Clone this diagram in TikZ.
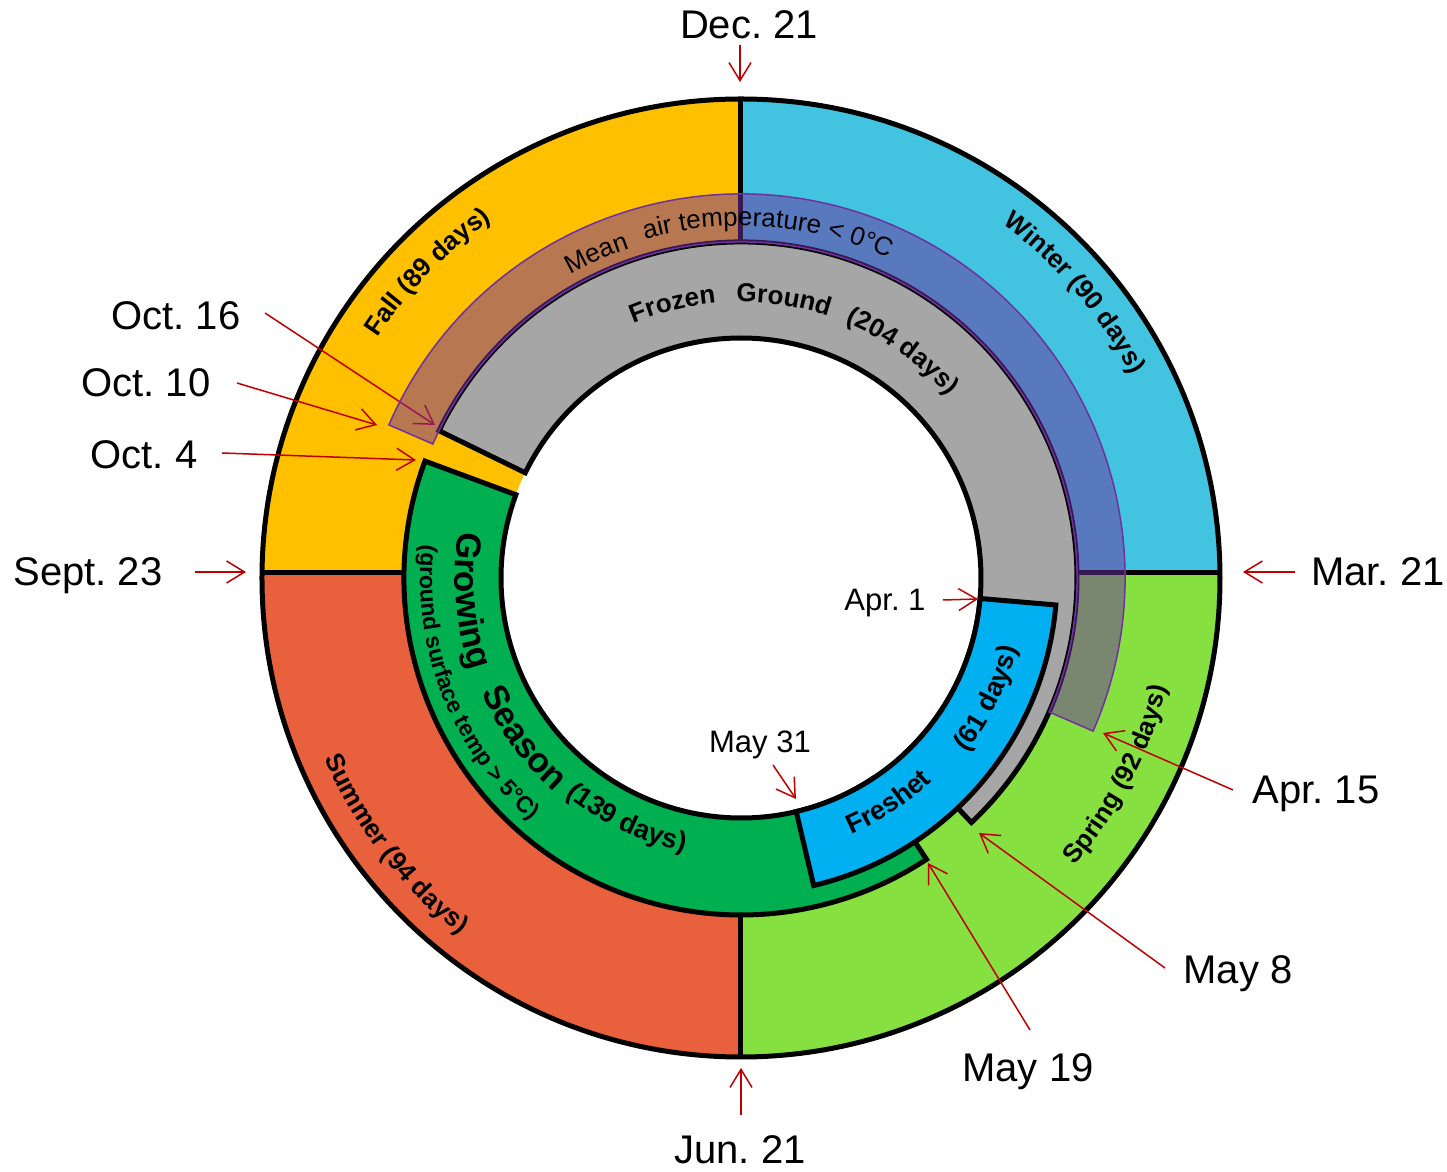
\documentclass[tikz,border=0pt]{standalone}
\usepackage{fontspec}
\setmainfont{Liberation Sans}
\usetikzlibrary{arrows.meta,decorations.text}
\frenchspacing
\definecolor{winterc}{HTML}{42C3DF}
\definecolor{fallc}{HTML}{FFC000}
\definecolor{springc}{HTML}{86E040}
\definecolor{summerc}{HTML}{E8603C}
\definecolor{growc}{HTML}{00B050}
\definecolor{freshc}{HTML}{00B0F0}
\definecolor{frozc}{HTML}{A6A6A6}
\definecolor{bandc}{HTML}{7030A0}
\definecolor{arrowred}{HTML}{C00000}
\newcommand{\ringpath}[4]{({#1}:#4) arc[start angle={#1},end angle={#2},radius=#4] -- ({#2}:#3) arc[start angle={#2},end angle={#1},radius=#3] -- cycle}
\newcommand{\cwtext}[4]{\path[decorate,decoration={text along path,text align=center,text={|#3|#4}}] ({#1+45}:#2) arc[start angle={#1+45},end angle={#1-45},radius=#2];}
\newcommand{\ccwtext}[4]{\path[decorate,decoration={text along path,text align=center,text={|#3|#4}}] ({#1-45}:#2) arc[start angle={#1-45},end angle={#1+45},radius=#2];}
\newcommand{\seasonfont}{\bfseries\fontsize{13}{15}\selectfont}
\newcommand{\ringfont}{\bfseries\fontsize{13}{15}\selectfont}
\newcommand{\ringfontB}{\bfseries\fontsize{13.5}{16}\selectfont}
\newcommand{\growfont}{\bfseries\fontsize{17.5}{20}\selectfont}
\newcommand{\notefont}{\bfseries\fontsize{11.5}{13}\selectfont}
\newcommand{\bandfont}{\fontsize{13}{15}\selectfont}
\tikzset{
  datelbl/.style={font=\fontsize{20}{24}\selectfont, anchor=base, inner sep=0pt},
  smalldate/.style={font=\fontsize{15.5}{18}\selectfont, anchor=base, inner sep=0pt},
  redarrow/.style={draw=arrowred, line width=0.75pt, -{Straight Barb[length=9pt,width=11pt]}},
  ring/.style={draw=black, line width=2.5pt},
  divider/.style={draw=black, line width=2.5pt},
}
\begin{document}
\begin{tikzpicture}[x=0.5pt,y=0.5pt]
\useasboundingbox (-741,-594) rectangle (706,578);
\fill[white] (-741,-594) rectangle (706,578);
% seasons
\begin{scope}
  \clip (0,0) circle[radius=479];
  \fill[fallc] (-500,5) rectangle (0,500);
  \fill[winterc] (0,5) rectangle (500,500);
  \fill[summerc] (-500,-500) rectangle (0,5);
  \fill[springc] (0,-500) rectangle (500,5);
\end{scope}
\draw[divider] (-479,5) -- (479,5);
\draw[divider] (0,-479) -- (0,479);
\fill[white] (0,0) circle[radius=240];
\draw[line width=2.5pt] (0,0) circle[radius=479];
% season labels
\cwtext{40.5}{440}{\seasonfont}{Winter (90 days)}
\cwtext{135.7}{436}{\seasonfont}{Fall (89 days)}
\ccwtext{-27.6}{440}{\seasonfont}{Spring (92 days)}
\ccwtext{217.6}{454}{\seasonfont}{Summer (94 days)}
% inner rings
\draw[ring, fill=frozc] \ringpath{154}{-46.7}{240}{336};
\draw[ring, fill=growc] \ringpath{159.7}{303.4}{240}{337};
\draw[ring, fill=freshc] \ringpath{-4.9}{-76.7}{240}{316};
% ring texts
\cwtext{104}{276}{\ringfont}{Frozen}
\cwtext{81.2}{276}{\ringfont}{Ground}
\cwtext{54.5}{276}{\ringfont}{(204 days)}
\ccwtext{184.8}{286}{\growfont}{Growing}
\ccwtext{216.4}{284}{\growfont}{Season}
\ccwtext{244.7}{279}{\ringfontB}{(139 days)}
\ccwtext{201.6}{321}{\notefont}{(ground surface temp > 5°C)}
\ccwtext{-56.7}{279}{\ringfontB}{Freshet}
\ccwtext{-26}{285}{\ringfontB}{(61 days)}
% date labels
\node[datelbl] (dec) at (8,539) {Dec. 21};
\node[datelbl] (mar) at (637,-8) {Mar. 21};
\node[datelbl] (jun) at (-1,-586) {Jun. 21};
\node[datelbl] (sep) at (-653,-8) {Sept. 23};
\node[datelbl] (oct16) at (-565,248) {Oct. 16};
\node[datelbl] (oct10) at (-595,181) {Oct. 10};
\node[datelbl] (oct4) at (-597,109) {Oct. 4};
\node[smalldate] (apr1) at (144,-33) {Apr. 1};
\node[smalldate] (may31) at (19,-175) {May 31};
\node[datelbl] (apr15) at (575,-226) {Apr. 15};
\node[datelbl] (may8) at (497,-406) {May 8};
\node[datelbl] (may19) at (287,-504) {May 19};
% arrow coordinates
\coordinate (decA) at (-1,533);   \coordinate (decB) at (-1,496);
\coordinate (marA) at (554,6);    \coordinate (marB) at (502,6);
\coordinate (junA) at (0,-537);   \coordinate (junB) at (0,-490);
\coordinate (sepA) at (-546,6);   \coordinate (sepB) at (-495,6);
\coordinate (o16A) at (-476,265); \coordinate (o16B) at (-306,153);
\coordinate (o10A) at (-504,195); \coordinate (o10B) at (-364,153);
\coordinate (o4A) at (-519,125);  \coordinate (o4B) at (-325,118);
\coordinate (a1A) at (202,-22);   \coordinate (a1B) at (237,-21);
\coordinate (m31A) at (32,-187);  \coordinate (m31B) at (55,-221);
\coordinate (a15A) at (492,-212); \coordinate (a15B) at (362,-155);
\coordinate (m8A) at (424,-390);  \coordinate (m8B) at (238,-255);
\coordinate (m19A) at (289,-452); \coordinate (m19B) at (187,-285);
\draw[redarrow] (decA) -- (decB);
\draw[redarrow] (marA) -- (marB);
\draw[redarrow] (junA) -- (junB);
\draw[redarrow] (sepA) -- (sepB);
\draw[redarrow] (o16A) -- (o16B);
\draw[redarrow] (o10A) -- (o10B);
\draw[redarrow] (o4A) -- (o4B);
\draw[redarrow] (a1A) -- (a1B);
\draw[redarrow] (m31A) -- (m31B);
\draw[redarrow] (a15A) -- (a15B);
\draw[redarrow] (m8A) -- (m8B);
\draw[redarrow] (m19A) -- (m19B);
% translucent band
\draw[bandc, line width=0.75pt, fill=bandc, fill opacity=0.5] \ringpath{156.5}{-23.5}{336}{384};
\cwtext{114}{348}{\bandfont}{Mean}
\cwtext{85.5}{352}{\bandfont}{air temperature < 0°C}
\end{tikzpicture}
\end{document}
